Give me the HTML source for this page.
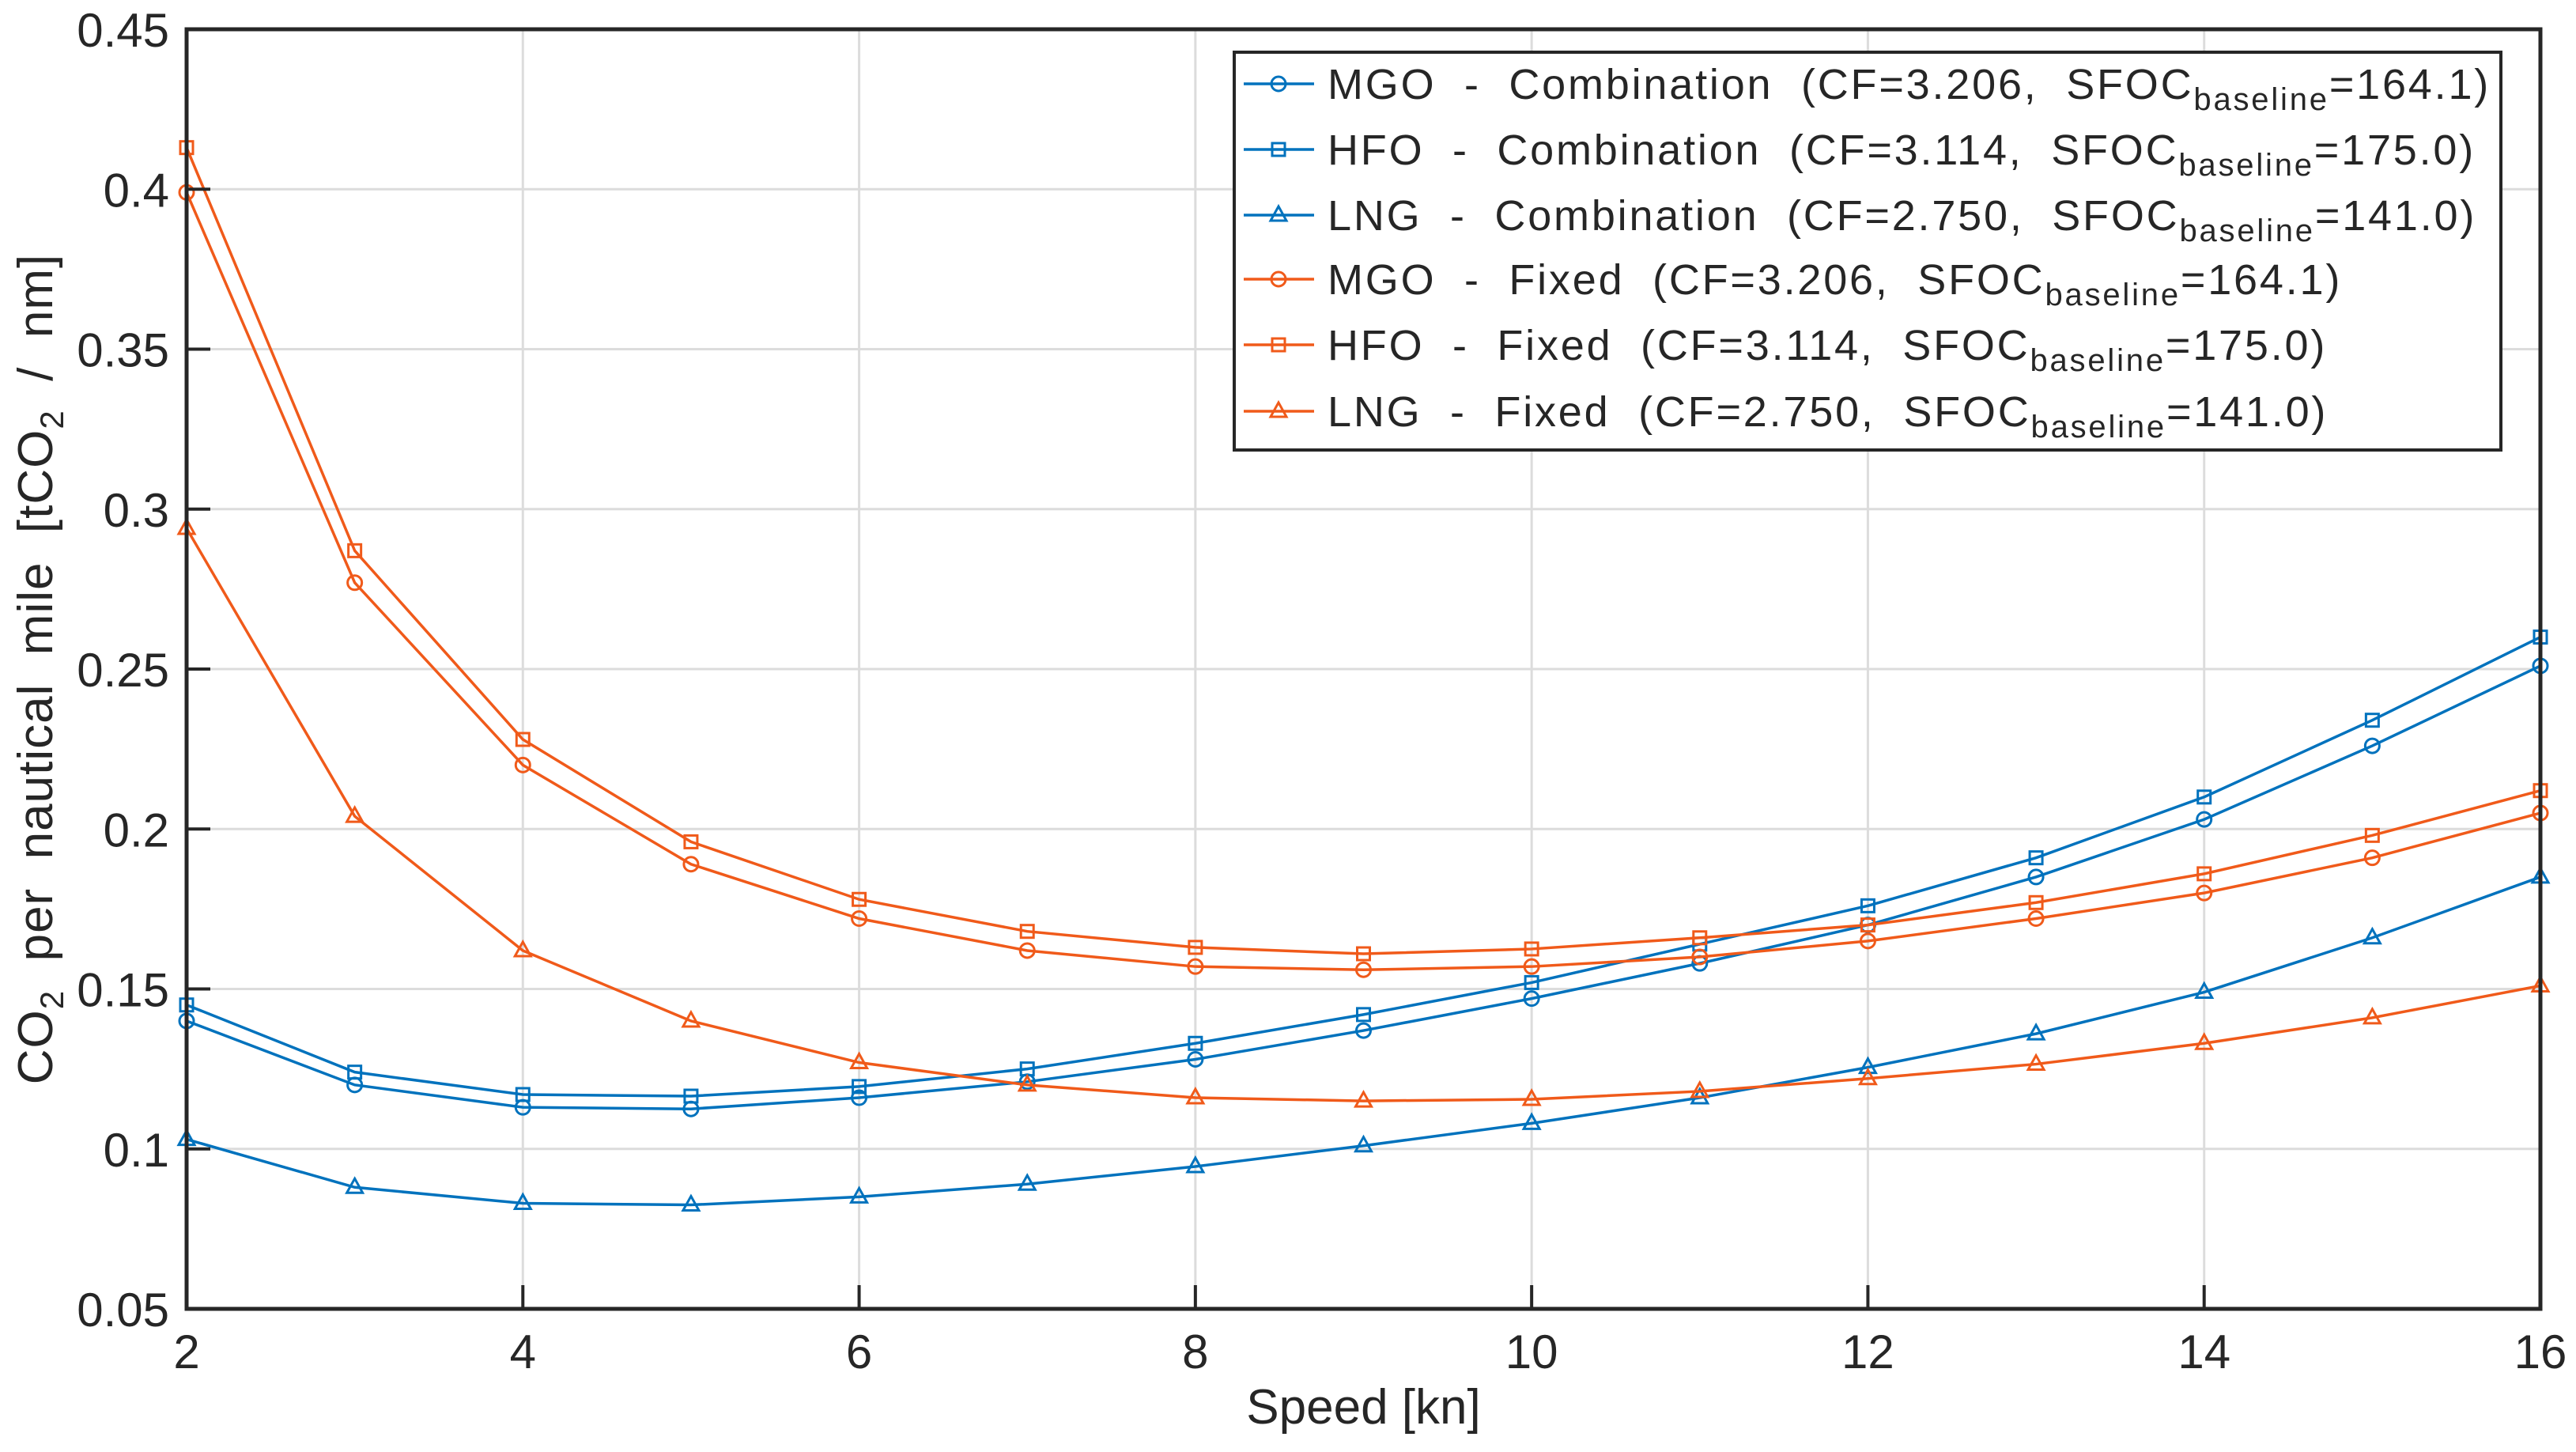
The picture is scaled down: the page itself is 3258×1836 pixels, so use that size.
<!DOCTYPE html>
<html><head><meta charset="utf-8"><style>
html,body{margin:0;padding:0;background:#fff;}
svg{display:block;font-family:"Liberation Sans",Arial,sans-serif;}
svg text{white-space:pre;}
</style></head><body>
<svg id="chart" width="3258" height="1836" viewBox="0 0 3258 1836" xmlns="http://www.w3.org/2000/svg">
<rect width="3258" height="1836" fill="#fff"/>
<g id="grid"></g><g id="series"></g><g id="axes"></g><g id="legend"></g>
</svg>
<script>
const speeds=[2,3,4,5,6,7,8,9,10,11,12,13,14,15,16];
const mgoComb=[0.140,0.120,0.113,0.1125,0.116,0.121,0.128,0.137,0.147,0.158,0.170,0.185,0.203,0.226,0.251];
const hfoComb=[0.145,0.124,0.117,0.1165,0.1195,0.125,0.133,0.142,0.152,0.164,0.176,0.191,0.210,0.234,0.260];
const lngComb=[0.103,0.088,0.083,0.0825,0.085,0.089,0.0945,0.101,0.108,0.116,0.1255,0.136,0.149,0.166,0.185];
const mgoFixed=[0.399,0.277,0.220,0.189,0.172,0.162,0.157,0.156,0.157,0.160,0.165,0.172,0.180,0.191,0.205];
const hfoFixed=[0.413,0.287,0.228,0.196,0.178,0.168,0.163,0.161,0.1625,0.166,0.170,0.177,0.186,0.198,0.212];
const lngFixed=[0.294,0.204,0.162,0.140,0.127,0.120,0.116,0.115,0.1155,0.118,0.122,0.1265,0.133,0.141,0.151];
const xTicks=[2,4,6,8,10,12,14,16];
const yTicks=[0.05,0.1,0.15,0.2,0.25,0.3,0.35,0.4,0.45];
const yTickLabels=["0.05","0.1","0.15","0.2","0.25","0.3","0.35","0.4","0.45"];
const legendLabels=[["MGO  -  Combination  (CF=3.206,  SFOC","=164.1)"],["HFO  -  Combination  (CF=3.114,  SFOC","=175.0)"],["LNG  -  Combination  (CF=2.750,  SFOC","=141.0)"],["MGO  -  Fixed  (CF=3.206,  SFOC","=164.1)"],["HFO  -  Fixed  (CF=3.114,  SFOC","=175.0)"],["LNG  -  Fixed  (CF=2.750,  SFOC","=141.0)"]];

const L=236,R=3213,T=37,B=1655;
const X0=2,X1=16,Y0=0.05,Y1=0.45;
const sx=v=>L+(v-X0)/(X1-X0)*(R-L);
const sy=v=>B-(v-Y0)/(Y1-Y0)*(B-T);
const NS="http://www.w3.org/2000/svg";
function mk(tag,attrs,parent){const e=document.createElementNS(NS,tag);for(const k in attrs)e.setAttribute(k,attrs[k]);parent.appendChild(e);return e;}
const grid=document.getElementById('grid'),axes=document.getElementById('axes'),ser=document.getElementById('series'),leg=document.getElementById('legend');
const BLUE="#0072BD",ORANGE="#F05A1A";

xTicks.forEach(t=>{
  const g=mk('line',{x1:sx(t),x2:sx(t),y1:T,y2:B,stroke:'#dcdcdc','stroke-width':3},grid);
  
  
  const tk=mk('line',{x1:sx(t),x2:sx(t),y1:B,y2:B-30,stroke:'#262626','stroke-width':4},axes);
  
  
  const tx=mk('text',{x:sx(t),y:1730,'text-anchor':'middle','font-size':60,fill:'#262626'},axes);
  tx.textContent=String(t);
  
  
});
yTicks.forEach((t,i)=>{
  const g=mk('line',{x1:L,x2:R,y1:sy(t),y2:sy(t),stroke:'#dcdcdc','stroke-width':3},grid);
  
  
  const tk=mk('line',{x1:L,x2:L+30,y1:sy(t),y2:sy(t),stroke:'#262626','stroke-width':4},axes);
  
  
  const tx=mk('text',{x:214,y:sy(t)+22,'text-anchor':'end','font-size':60,fill:'#262626'},axes);
  tx.textContent=yTickLabels[i];
  
  
});
const frame=mk('rect',{x:L,y:T,width:R-L,height:B-T,fill:'none',stroke:'#262626','stroke-width':5},axes);



const xl=mk('text',{x:(L+R)/2,y:1800,'text-anchor':'middle','font-size':62,fill:'#262626'},axes);
xl.textContent='Speed [kn]';


const yl=mk('text',{transform:'translate(66,846) rotate(-90)','text-anchor':'middle','font-size':62,'letter-spacing':1,fill:'#262626'},axes);
yl.innerHTML='CO<tspan font-size="42" dy="14">2</tspan><tspan dy="-14">  per  nautical  mile  [tCO</tspan><tspan font-size="42" dy="14">2</tspan><tspan dy="-14">  /  nm]</tspan>';



function marker(type,x,y,color,parent){
  let m;
  if(type==='o') m=mk('circle',{cx:x,cy:y,r:9,fill:'none',stroke:color,'stroke-width':3},parent);
  else if(type==='s') m=mk('rect',{x:x-8,y:y-8,width:16,height:16,fill:'none',stroke:color,'stroke-width':3},parent);
  else m=mk('polygon',{points:`${x},${y-11} ${x+10},${y+7} ${x-10},${y+7}`,fill:'none',stroke:color,'stroke-width':3},parent);
  return m;
}
const seriesList=[[mgoComb,BLUE,'o','mgo-combination'],[hfoComb,BLUE,'s','hfo-combination'],[lngComb,BLUE,'t','lng-combination'],[mgoFixed,ORANGE,'o','mgo-fixed'],[hfoFixed,ORANGE,'s','hfo-fixed'],[lngFixed,ORANGE,'t','lng-fixed']];
seriesList.forEach(([vals,c,m,name])=>{
  const g=mk('g',{},ser);
  
  
  const pl=mk('polyline',{points:vals.map((v,i)=>sx(speeds[i])+','+sy(v)).join(' '),fill:'none',stroke:c,'stroke-width':3.5},g);
  
  
  vals.forEach((v,i)=>{
    const mm=marker(m,sx(speeds[i]),sy(v),c,g);
    
    
  });
});

const lb=mk('rect',{x:1561,y:66,width:1602,height:503,fill:'#fff',stroke:'#262626','stroke-width':4},leg);


const rows=[106,189,272,353,436,520];
seriesList.forEach(([vals,c,m,name],i)=>{
  const y=rows[i];
  const g=mk('g',{},leg);
  
  
  mk('line',{x1:1573,x2:1662,y1:y,y2:y,stroke:c,'stroke-width':3.5},g);
  marker(m,1617,y,c,g);
  const t=mk('text',{x:1679,y:y+19,'font-size':54,'letter-spacing':2.8,fill:'#262626'},g);
  t.innerHTML=legendLabels[i][0]+'<tspan font-size="40" dy="14">baseline</tspan><tspan dy="-14">'+legendLabels[i][1]+'</tspan>';
});
</script>
</body></html>
